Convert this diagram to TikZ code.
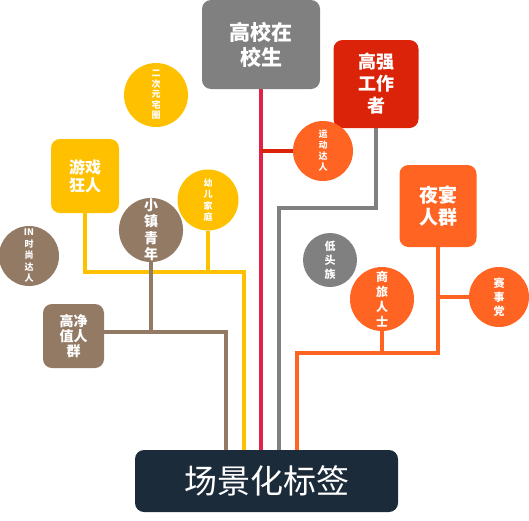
\documentclass[tikz,border=0pt]{standalone}
\usepackage{fontspec}
\newfontfamily\cjk{Noto Sans CJK SC}
\usetikzlibrary{backgrounds}
\definecolor{navy}{HTML}{1C2B3A}
\definecolor{grey}{HTML}{808080}
\definecolor{redbox}{HTML}{DA2308}
\definecolor{crimson}{HTML}{E0224A}
\definecolor{orng}{HTML}{FF6422}
\definecolor{ylw}{HTML}{FFC000}
\definecolor{brwn}{HTML}{937A65}
\begin{document}
\begin{tikzpicture}[x=1pt, y=-1pt]
        \tikzstyle{tagbox} = [rounded corners=9pt, text=white, align=center, inner sep=0pt, font=\cjk\bfseries]
        \tikzstyle{tagdot} = [circle, text=white, align=center, inner sep=0pt, font=\cjk\bfseries]
        \tikzstyle{blk} = [line width=3.5pt]
        \useasboundingbox (0, 0) rectangle (529, 520);
        
        \node[tagbox, fill=navy, minimum width=263pt, minimum height=62pt, font=\cjk\fontsize{33}{36}\selectfont] (tag) at (266.5, 481) {场景化标签};
        
        \node[tagbox, fill=grey, minimum width=118pt, minimum height=89pt, font=\cjk\bfseries\fontsize{21}{25}\selectfont] (gaoxiao) at (261, 44.5) {高校在\\校生};
        \node[tagbox, fill=redbox, minimum width=85pt, minimum height=88pt, font=\cjk\bfseries\fontsize{18}{22}\selectfont] (gaoqiang) at (376, 84) {高强\\工作\\者};
        \node[tagbox, fill=ylw, minimum width=68pt, minimum height=74pt, font=\cjk\bfseries\fontsize{16}{18}\selectfont] (youxi) at (85, 176) {游戏\\狂人};
        \node[tagbox, fill=brwn, minimum width=61pt, minimum height=64pt, font=\cjk\bfseries\fontsize{14}{15}\selectfont] (jingzhi) at (73.5, 336) {高净\\值人\\群};
        \node[tagbox, fill=orng, minimum width=77pt, minimum height=82pt, font=\cjk\bfseries\fontsize{19}{22}\selectfont] (yeyan) at (438, 206) {夜宴\\人群};
        
        \node[tagdot, fill=ylw, minimum size=64pt, font=\cjk\bfseries\fontsize{9}{10.5}\selectfont] (erciyuan) at (156, 95) {二\\次\\元\\宅\\圈};
        \node[tagdot, fill=orng, minimum size=60pt, font=\cjk\bfseries\fontsize{9}{11}\selectfont] (yundong) at (323, 151) {运\\动\\达\\人};
        \node[tagdot, fill=ylw, minimum size=61pt, font=\cjk\bfseries\fontsize{9}{11.5}\selectfont] (youer) at (208, 200) {幼\\儿\\家\\庭};
        \node[tagdot, fill=brwn, minimum size=58pt, font=\cjk\bfseries\fontsize{14}{16.5}\selectfont] (xiaozhen) at (151, 230) {小\\镇\\青\\年};
        \node[tagdot, fill=brwn, minimum size=60pt, font=\cjk\bfseries\fontsize{9}{11.5}\selectfont] (shishang) at (29, 256) {IN\\时\\尚\\达\\人};
        \node[tagdot, fill=grey, minimum size=54pt, font=\cjk\bfseries\fontsize{11}{14}\selectfont] (ditou) at (330, 260) {低\\头\\族};
        \node[tagdot, fill=orng, minimum size=64pt, font=\cjk\bfseries\fontsize{12}{15}\selectfont] (shanglv) at (382, 299) {商\\旅\\人\\士};
        \node[tagdot, fill=orng, minimum size=60pt, font=\cjk\bfseries\fontsize{11}{14}\selectfont] (saishi) at (499, 297) {赛\\事\\党};
        
        \coordinate (bk) at (226, 332);
        \coordinate (yk) at (244, 272);
        \coordinate (gk) at (279, 208);
        \coordinate (ok) at (297, 353);
        
        \begin{scope}[on background layer]
        \draw[blk, ylw] (youxi.south) -- (youxi.south |- yk) -- (yk) -- (yk |- tag.north);
        \draw[blk, ylw] (youer.south) -- (youer.south |- yk);
        \draw[blk, brwn] (jingzhi.east |- bk) -- (bk) -- (bk |- tag.north);
        \draw[blk, brwn] (xiaozhen.south) -- (xiaozhen.south |- bk);
        \draw[blk, crimson] (gaoxiao.south) -- (gaoxiao.south |- tag.north);
        \draw[blk, redbox] (yundong.west) -- (yundong.west -| gaoxiao.south);
        \draw[blk, grey] (gaoqiang.south) -- (gaoqiang.south |- gk) -- (gk) -- (gk |- tag.north);
        \draw[blk, orng] (yeyan.south) -- (yeyan.south |- ok) -- (ok) -- (ok |- tag.north);
        \draw[blk, orng] (shanglv.south) -- (shanglv.south |- ok);
        \draw[blk, orng] (saishi.west) -- (saishi.west -| yeyan.south);
        \end{scope}
    \end{tikzpicture}
\end{document}
